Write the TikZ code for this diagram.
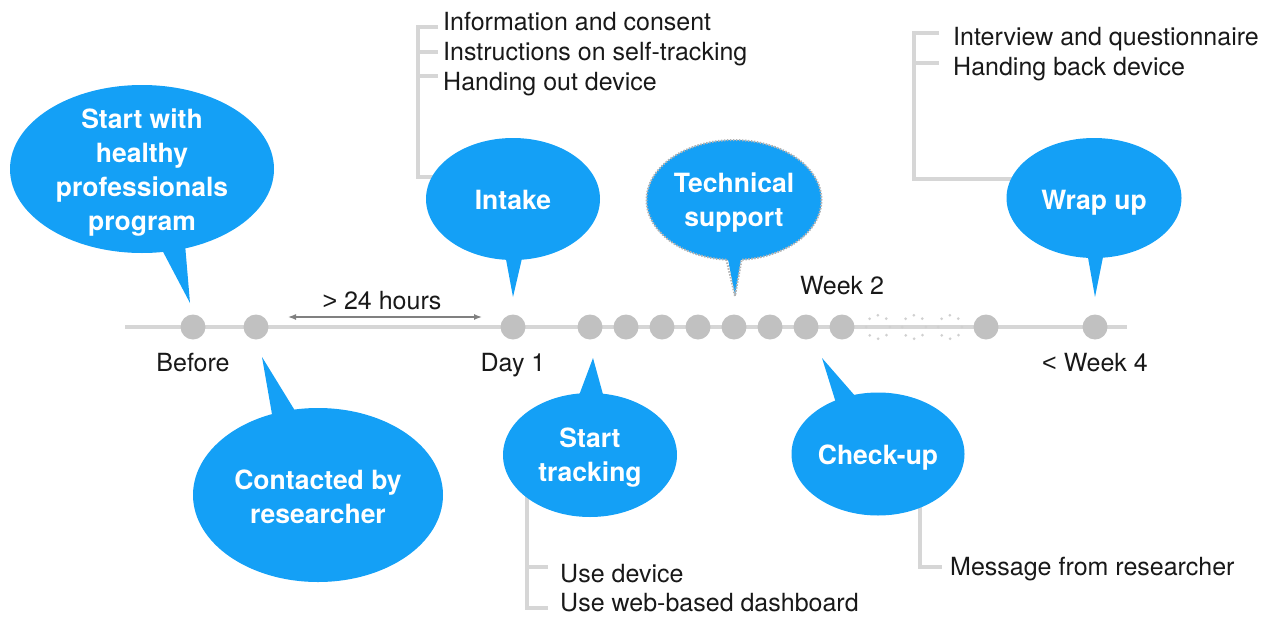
\documentclass[tikz,border=0pt]{standalone}
\usepackage{fontspec}
\setmainfont{TeX Gyre Heros}
\newfontfamily\cmpfont{Liberation Sans}
\usetikzlibrary{arrows.meta,backgrounds}

\definecolor{bubblue}{RGB}{20,160,246}
\definecolor{dotgray}{RGB}{193,193,193}
\definecolor{ghostgray}{RGB}{208,208,208}
\definecolor{linegray}{RGB}{214,214,214}
\definecolor{rimgray}{RGB}{178,178,178}
\definecolor{arrowgray}{RGB}{128,128,128}

\tikzset{
  stopdot/.style={circle, fill=dotgray, minimum size=25pt, inner sep=0pt},
  ghostdot/.style={circle, draw=ghostgray, line width=3pt, line cap=round,
    dash pattern=on 0pt off 9.2pt, minimum size=23.5pt, inner sep=0pt},
  say/.style={text=white, align=center, inner sep=0pt,
    font=\bfseries\fontsize{26.5}{34}\selectfont},
  when/.style={anchor=base, inner sep=0pt, text=black!90,
    font=\fontsize{25}{30}\selectfont},
  todo/.style={anchor=base west, inner sep=0pt, text=black!90,
    font=\fontsize{25}{30}\selectfont},
  bracket/.style={draw=linegray, line width=3.2pt},
}

\begin{document}
\begin{tikzpicture}[x=1pt, y=-1pt, >={Latex[length=8pt,width=6pt]}]
\useasboundingbox (0,0) rectangle (1272,616);

% time line
\draw[linegray, line width=3.5pt] (125,327) -- (1127,327);
\foreach \x/\n in {193/before,256/contacted,513/day1,590/d2,626/d3,662/d4,
    698/d5,734/d6,770/d7,806/d8,842/week2,986/d9,1095/last}
  \node[stopdot] (\n) at (\x,327) {};
\foreach \x/\n in {878/g1,914/g2,950/g3}
  \node[ghostdot] (\n) at (\x,327) {};

\node[when] (lbefore) at (193,371) {Before};
\node[when] (lday1) at (513,371) {Day 1};
\node[when] (lweek2) at (842,294) {Week 2};
\node[when] (lweek4) at (1095,371) {{\cmpfont <} Week 4};

% > 24 hours
\coordinate (h1) at (288,317);
\coordinate (h2) at (482,317);
\draw[<->, arrowgray, line width=1.4pt] (h1) -- (h2);
\node[when] (lhours) at (382,309) {{\cmpfont >} 24 hours};

% bubbles above the line
\fill[bubblue] (142,169) ellipse [x radius=132, y radius=84];
\fill[bubblue] (160,246) -- (190,303) -- (185,244) -- cycle;
\node[say] (start) at (142,173) {Start with\\healthy\\professionals\\program};

\fill[bubblue] (513,199) ellipse [x radius=87, y radius=61];
\fill[bubblue] (505,254) -- (513,297) -- (523,254) -- cycle;
\node[say] (intake) at (513,200) {Intake};

\fill[bubblue] (734,200) ellipse [x radius=87.5, y radius=60];
\fill[bubblue] (727,254) -- (735,296) -- (742,254) -- cycle;
\draw[rimgray, line width=2pt, dash pattern=on 1.5pt off 1.5pt]
  (734,200) ++(95:87.5 and 60)
  arc[start angle=95, end angle=445, x radius=87.5, y radius=60]
  -- (735,296) -- cycle;
\node[say] (tech) at (734,203) {Technical\\support};

\fill[bubblue] (1094,198) ellipse [x radius=87.5, y radius=60];
\fill[bubblue] (1087,252) -- (1095,297) -- (1104,252) -- cycle;
\node[say] (wrap) at (1094,203) {Wrap up};

% bubbles below the line
\fill[bubblue] (318,495) ellipse [x radius=125, y radius=87];
\fill[bubblue] (273,420) -- (262,357) -- (297,414) -- cycle;
\node[say] (contact) at (318,497) {Contacted by\\researcher};

\fill[bubblue] (590,455) ellipse [x radius=87, y radius=62];
\fill[bubblue] (578,398) -- (593,358) -- (604,398) -- cycle;
\node[say] (track) at (590,458) {Start\\tracking};

\fill[bubblue] (878,454) ellipse [x radius=86.5, y radius=61.5];
\fill[bubblue] (836,403) -- (822,358) -- (856,397) -- cycle;
\node[say] (check) at (878,458) {Check-up};

% lists
\node[todo] (info) at (443,30) {Information and consent};
\node[todo] (instr) at (443,60) {Instructions on self-tracking};
\node[todo] (handout) at (443,90) {Handing out device};

\node[todo] (interview) at (953,45) {Interview and questionnaire};
\node[todo] (handback) at (953,75) {Handing back device};

\node[todo] (usedev) at (560,582) {Use device};
\node[todo] (useweb) at (560,611) {Use web-based dashboard};

\node[todo] (message) at (950,575) {Message from researcher};

\begin{scope}[on background layer]
  \coordinate (i1) at (418,27);
  \coordinate (i2) at (418,52);
  \coordinate (i3) at (418,76);
  \coordinate (ispine) at (418,177);
  \draw[bracket, shorten <=5pt] (i1 -| info.west) -- (i1) -- (ispine) -- (ispine -| intake);
  \draw[bracket, shorten >=5pt] (i2) -- (i2 -| instr.west);
  \draw[bracket, shorten >=5pt] (i3) -- (i3 -| handout.west);

  \coordinate (w1) at (914,33);
  \coordinate (w2) at (914,63);
  \coordinate (wspine) at (914,179);
  \draw[bracket, shorten <=14pt] (w1 -| interview.west) -- (w1) -- (wspine) -- (wspine -| wrap);
  \draw[bracket, shorten >=14pt] (w2) -- (w2 -| handback.west);

  \coordinate (t1) at (527,567);
  \coordinate (tspine) at (527,608);
  \draw[bracket, shorten >=12pt] (track -| tspine) -- (tspine) -- (tspine -| useweb.west);
  \draw[bracket, shorten >=12pt] (t1) -- (t1 -| usedev.west);

  \coordinate (cspine) at (920,567);
  \draw[bracket, shorten >=8pt] (check -| cspine) -- (cspine) -- (cspine -| message.west);
\end{scope}
\end{tikzpicture}
\end{document}
